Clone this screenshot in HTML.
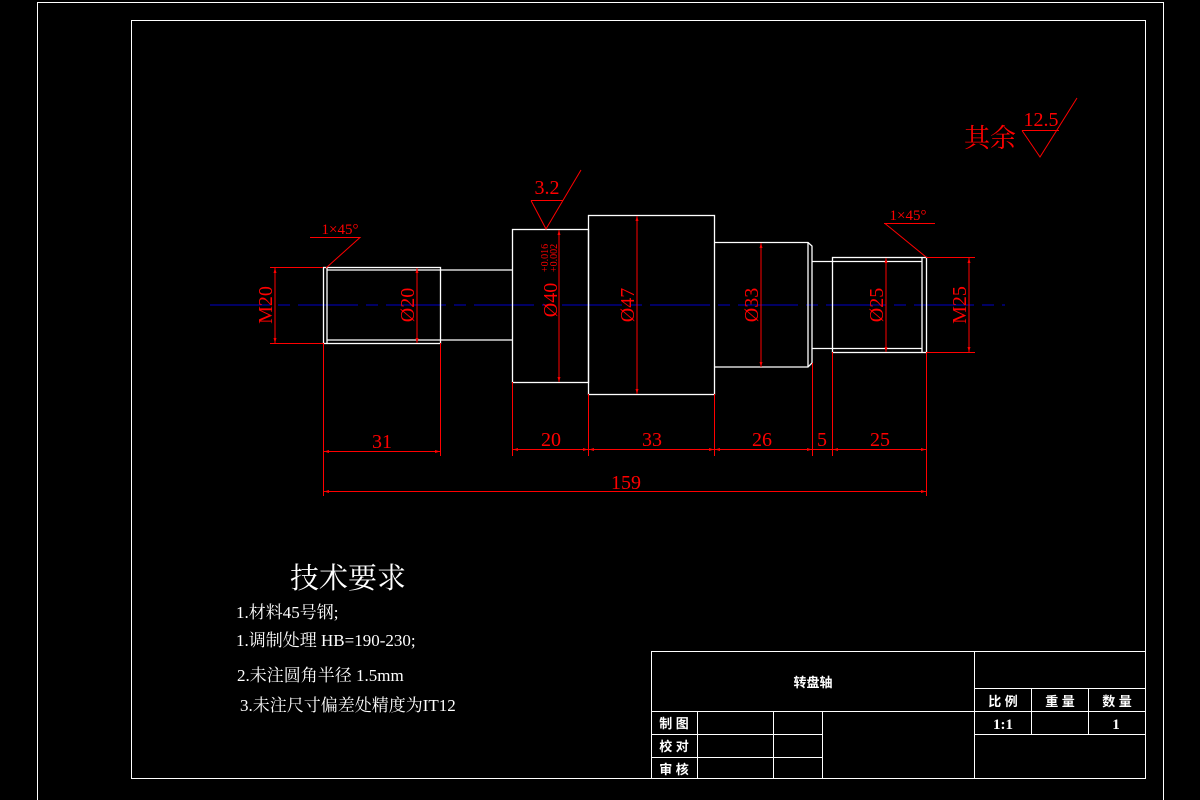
<!DOCTYPE html>
<html><head><meta charset="utf-8"><style>
html,body{margin:0;padding:0;background:#000;}
svg{display:block;}
text{font-family:"Liberation Serif","Noto Serif CJK SC",serif;}
.cj{font-family:"Liberation Serif","Noto Serif CJK SC",serif;}
.cs{font-family:"Liberation Sans","Noto Sans CJK SC",sans-serif;}
</style></head><body>
<svg width="1200" height="800" viewBox="0 0 1200 800">
<defs>
<marker id="a" viewBox="0 0 10 10" refX="10" refY="5" markerWidth="8" markerHeight="5" orient="auto-start-reverse" markerUnits="userSpaceOnUse"><path d="M0,2 L10,5 L0,8z" fill="#f00"/></marker>
</defs>
<g fill="none" stroke="#fff" stroke-width="1">
<rect x="37.5" y="2.5" width="1126" height="800"/>
<rect x="131.5" y="20.5" width="1014" height="758"/>
</g>
<line x1="210" y1="305" x2="1005" y2="305" stroke="#0000c8" stroke-width="1" stroke-dasharray="60,8,12,8"/>
<g fill="none" stroke="#fff" stroke-width="1.3">
<rect x="323.5" y="267.5" width="117" height="76"/>
<line x1="327" y1="267" x2="327" y2="343"/>
<line x1="327" y1="270" x2="440" y2="270"/><line x1="327" y1="340" x2="440" y2="340"/>
<line x1="440" y1="270" x2="512" y2="270"/><line x1="440" y1="340" x2="512" y2="340"/>
<rect x="512.5" y="229.5" width="76" height="153"/>
<rect x="588.5" y="215.5" width="126" height="179"/>
<path d="M714,242.5 H808 L812,246 V363 L808,367 H714"/>
<line x1="808" y1="242" x2="808" y2="367"/>
<path d="M812,261.5 H832 M812,348.5 H832"/>
<rect x="832.5" y="257.5" width="94" height="95"/>
<line x1="832" y1="261.5" x2="922" y2="261.5"/><line x1="832" y1="348.5" x2="922" y2="348.5"/>
<line x1="922" y1="257" x2="922" y2="352"/>
</g>
<g stroke="#f00" stroke-width="1" fill="none">
<line x1="270" y1="267.5" x2="323" y2="267.5"/><line x1="270" y1="343.5" x2="323" y2="343.5"/>
<line x1="275" y1="268" x2="275" y2="343" marker-start="url(#a)" marker-end="url(#a)"/>
<line x1="417" y1="268" x2="417" y2="343" marker-start="url(#a)" marker-end="url(#a)"/>
<line x1="559" y1="230" x2="559" y2="382" marker-start="url(#a)" marker-end="url(#a)"/>
<line x1="637" y1="216" x2="637" y2="394" marker-start="url(#a)" marker-end="url(#a)"/>
<line x1="761" y1="243" x2="761" y2="367" marker-start="url(#a)" marker-end="url(#a)"/>
<line x1="886" y1="258" x2="886" y2="352" marker-start="url(#a)" marker-end="url(#a)"/>
<line x1="926" y1="257.5" x2="975" y2="257.5"/><line x1="926" y1="352.5" x2="975" y2="352.5"/>
<line x1="969" y1="258" x2="969" y2="352" marker-start="url(#a)" marker-end="url(#a)"/>
<line x1="323.5" y1="343" x2="323.5" y2="496"/>
<line x1="440.5" y1="343" x2="440.5" y2="456"/>
<line x1="512.5" y1="382" x2="512.5" y2="456"/>
<line x1="588.5" y1="394" x2="588.5" y2="456"/>
<line x1="714.5" y1="394" x2="714.5" y2="456"/>
<line x1="812.5" y1="363" x2="812.5" y2="456"/>
<line x1="832.5" y1="352" x2="832.5" y2="456"/>
<line x1="926.5" y1="352" x2="926.5" y2="496"/>
<line x1="324" y1="451.5" x2="440" y2="451.5" marker-start="url(#a)" marker-end="url(#a)"/>
<line x1="513" y1="449.5" x2="588" y2="449.5" marker-start="url(#a)" marker-end="url(#a)"/>
<line x1="589" y1="449.5" x2="714" y2="449.5" marker-start="url(#a)" marker-end="url(#a)"/>
<line x1="715" y1="449.5" x2="812" y2="449.5" marker-start="url(#a)" marker-end="url(#a)"/>
<line x1="813" y1="449.5" x2="832" y2="449.5"/>
<line x1="833" y1="449.5" x2="926" y2="449.5" marker-start="url(#a)" marker-end="url(#a)"/>
<line x1="324" y1="491.5" x2="926" y2="491.5" marker-start="url(#a)" marker-end="url(#a)"/>
<path d="M310,237.5 H360 L326,268"/>
<path d="M884,223.5 H935 M885,223.5 L926,257"/>
<path d="M531,200.5 H563 M531,200.5 L546,229 L581,170"/>
<path d="M1022,130.5 H1059 M1022,130.5 L1040,157 L1077,98"/>
</g>
<g fill="#f00" font-size="20" text-anchor="middle">
<text x="382" y="448">31</text>
<text x="551" y="446">20</text>
<text x="652" y="446">33</text>
<text x="762" y="446">26</text>
<text x="822" y="446">5</text>
<text x="880" y="446">25</text>
<text x="626" y="489">159</text>
<text x="547" y="194">3.2</text>
<text x="1041" y="126">12.5</text>
<text x="340" y="234" font-size="15">1×45°</text>
<text x="908" y="220" font-size="15">1×45°</text>
<text x="990" y="147" font-size="26" class="cj">其余</text>
<text transform="translate(272,305) rotate(-90)">M20</text>
<text transform="translate(414,305) rotate(-90)">Ø20</text>
<text transform="translate(557,300) rotate(-90)">Ø40</text>
<text transform="translate(548,258) rotate(-90)" font-size="10">+0.016</text>
<text transform="translate(557,258) rotate(-90)" font-size="10">+0.002</text>
<text transform="translate(634,305) rotate(-90)">Ø47</text>
<text transform="translate(758,305) rotate(-90)">Ø33</text>
<text transform="translate(883,305) rotate(-90)">Ø25</text>
<text transform="translate(966,305) rotate(-90)">M25</text>
</g>
<g fill="#fff">
<text x="348" y="588" font-size="29" text-anchor="middle" class="cj">技术要求</text>
<text x="236" y="618" font-size="17" class="cj">1.材料45号钢;</text>
<text x="236" y="646" font-size="17" class="cj">1.调制处理 HB=190-230;</text>
<text x="237" y="681" font-size="17" class="cj">2.未注圆角半径 1.5mm</text>
<text x="240" y="711" font-size="17" class="cj">3.未注尺寸偏差处精度为IT12</text>
</g>
<g stroke="#fff" stroke-width="1" fill="none">
<rect x="651.5" y="651.5" width="494" height="127"/>
<line x1="651" y1="711.5" x2="1146" y2="711.5"/>
<line x1="974.5" y1="651" x2="974.5" y2="779"/>
<line x1="974" y1="688.5" x2="1146" y2="688.5"/>
<line x1="974" y1="734.5" x2="1146" y2="734.5"/>
<line x1="1031.5" y1="688" x2="1031.5" y2="734"/>
<line x1="1088.5" y1="688" x2="1088.5" y2="734"/>
<line x1="697.5" y1="711" x2="697.5" y2="779"/>
<line x1="773.5" y1="711" x2="773.5" y2="779"/>
<line x1="822.5" y1="711" x2="822.5" y2="779"/>
<line x1="651" y1="734.5" x2="822" y2="734.5"/>
<line x1="651" y1="757.5" x2="822" y2="757.5"/>
</g>
<g fill="#fff" font-size="13" font-weight="bold">
<text x="813" y="687" text-anchor="middle" class="cs">转盘轴</text>
<text x="1003" y="706" text-anchor="middle" class="cs">比 例</text>
<text x="1060" y="706" text-anchor="middle" class="cs">重 量</text>
<text x="1117" y="706" text-anchor="middle" class="cs">数 量</text>
<text x="674" y="728" text-anchor="middle" class="cs">制 图</text>
<text x="674" y="751" text-anchor="middle" class="cs">校 对</text>
<text x="674" y="774" text-anchor="middle" class="cs">审 核</text>
</g>
<g fill="#fff" font-size="15" font-weight="bold">
<text x="1003" y="729" text-anchor="middle">1:1</text>
<text x="1116" y="729" text-anchor="middle">1</text>
</g>
</svg>
</body></html>
